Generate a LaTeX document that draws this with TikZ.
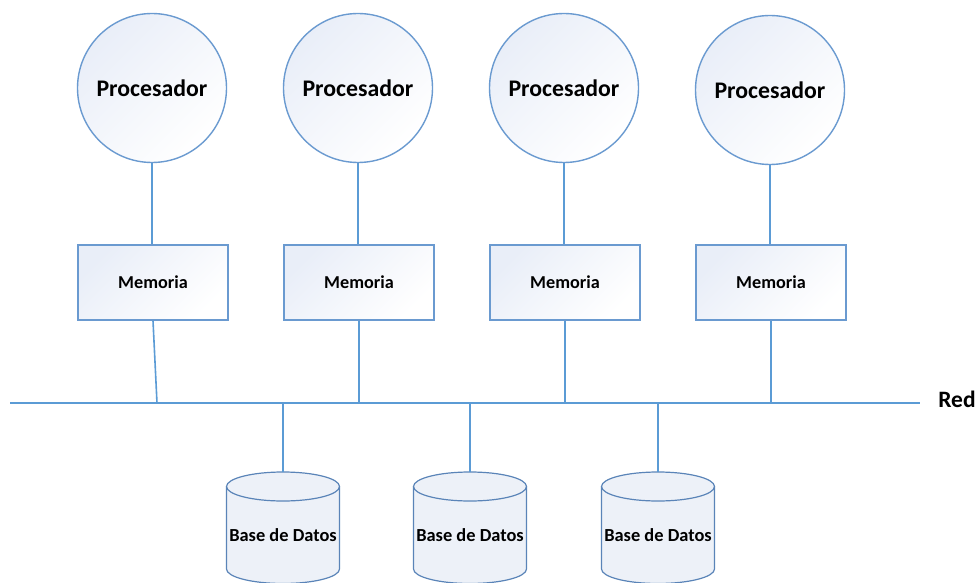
\documentclass[tikz,border=0pt]{standalone}
\usepackage{fontspec}
\setmainfont{Carlito}
\definecolor{edge}{HTML}{6A9AD0}
\definecolor{wire}{HTML}{5B9BD5}
\definecolor{dbedge}{HTML}{5A84B8}
\definecolor{tint}{HTML}{E9EEF8}
\definecolor{dbfill}{HTML}{EDF1F8}
% database drum: #1 name, #2 centre x
\newcommand{\dbdrum}[2]{%
  \coordinate (#1top) at (#2,472);
  \path[fill=dbfill, draw=dbedge, line width=1.2pt]
    (#2-56.5,486.5) -- (#2-56.5,569)
    arc[start angle=180,end angle=360,x radius=56.5pt,y radius=14.5pt]
    -- (#2+56.5,486.5)
    arc[start angle=0,end angle=180,x radius=56.5pt,y radius=14.5pt] -- cycle;
  \draw[dbedge, line width=1.2pt] (#2-56.5,486.5)
    arc[start angle=180,end angle=360,x radius=56.5pt,y radius=14.5pt];
  \node[dbtext] (#1) at (#2,535) {Base de Datos};
}
\begin{document}
\begin{tikzpicture}[x=1pt,y=-1pt,
  proc/.style={circle, draw=edge, line width=1.4pt, minimum size=149pt,
    inner sep=0pt, top color=tint, bottom color=white, shading angle=45,
    font=\fontsize{23.8}{28}\selectfont\bfseries},
  mem/.style={rectangle, draw=edge, line width=1.4pt, minimum width=150pt,
    minimum height=75pt, inner sep=0pt, top color=tint, bottom color=white,
    shading angle=45, font=\fontsize{18.2}{22}\selectfont\bfseries},
  dbtext/.style={inner sep=0pt, font=\fontsize{18.4}{22}\selectfont\bfseries},
  wireline/.style={draw=wire, line width=1.6pt}]
\useasboundingbox (0,0) rectangle (980,583);

% processors
\node[proc] (p1) at (152,88) {Procesador};
\node[proc] (p2) at (358,88) {Procesador};
\node[proc] (p3) at (564,88) {Procesador};
\node[proc] (p4) at (770,90) {Procesador};

% local memories
\node[mem] (m1) at (153,282.5) {Memoria};
\node[mem] (m2) at (359,282.5) {Memoria};
\node[mem] (m3) at (565,282.5) {Memoria};
\node[mem] (m4) at (771,282.5) {Memoria};

\foreach \i in {1,...,4}
  \draw[wireline] (p\i.south) -- (p\i.south |- m\i.north);

% network bus
\coordinate (netL) at (10,403);
\coordinate (netR) at (920,403);
\draw[wireline] (netL) -- (netR);
\node[font=\fontsize{23.5}{27}\selectfont\bfseries, inner sep=0pt] (red) at (957,399) {Red};

% memory taps on the bus
\coordinate (tap1) at (157,403);
\coordinate (tap2) at (359,403);
\coordinate (tap3) at (565,403);
\coordinate (tap4) at (771,403);
\foreach \i in {1,...,4}
  \draw[wireline] (m\i.south) -- (tap\i);

% databases
\dbdrum{db1}{283}
\dbdrum{db2}{470}
\dbdrum{db3}{658}
\coordinate (dtap1) at (283,403);
\coordinate (dtap2) at (470,403);
\coordinate (dtap3) at (658,403);
\foreach \i in {1,...,3}
  \draw[wireline] (dtap\i) -- (db\i top);
\end{tikzpicture}
\end{document}
